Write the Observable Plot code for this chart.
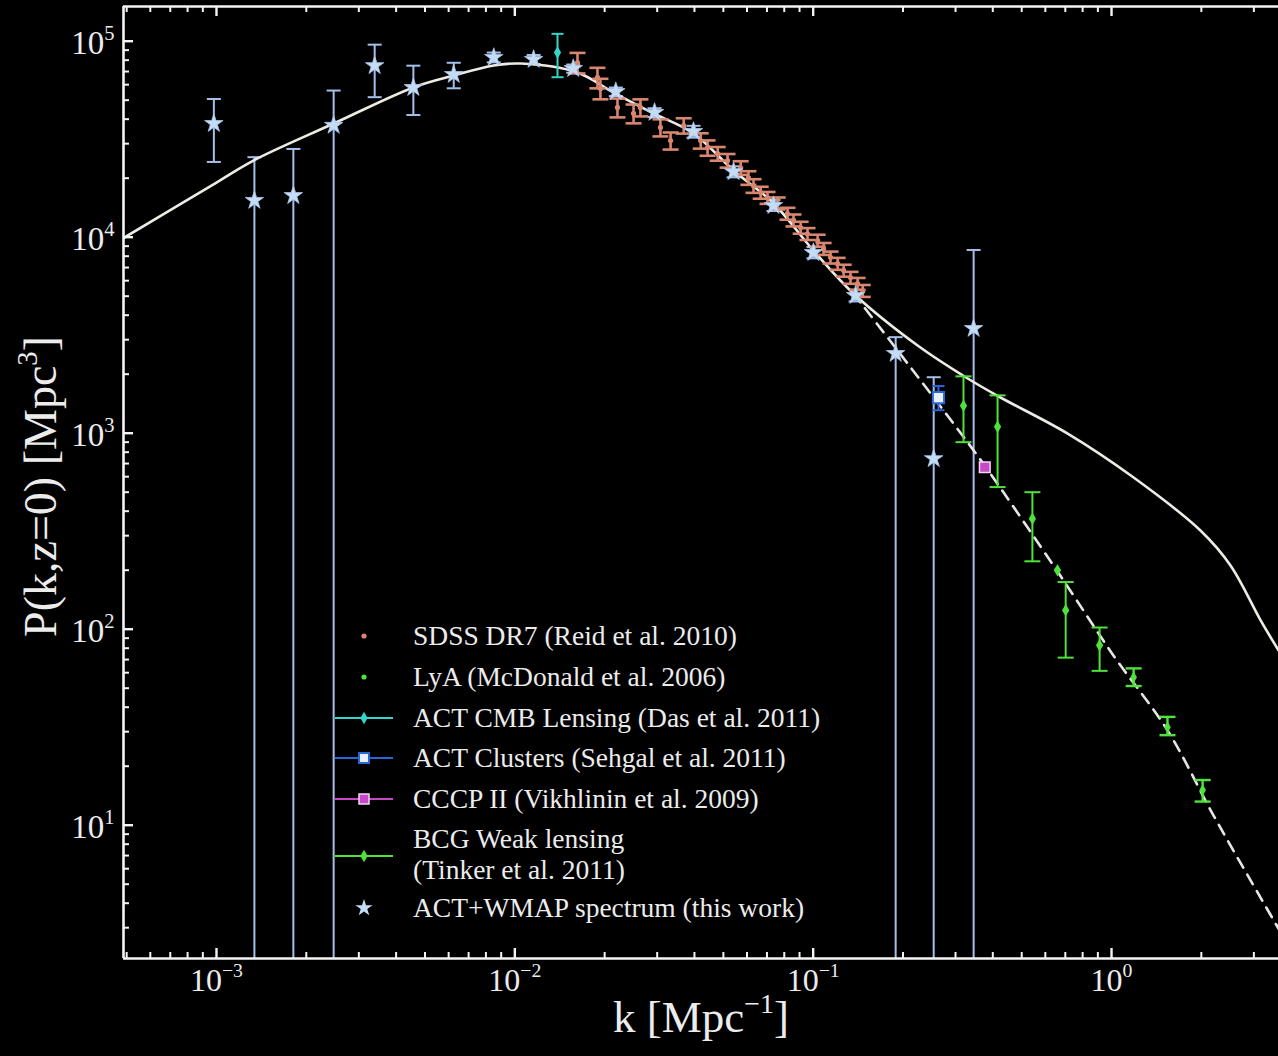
<!DOCTYPE html>
<html><head><meta charset="utf-8">
<script src="https://cdn.jsdelivr.net/npm/d3@7"></script>
<script src="https://cdn.jsdelivr.net/npm/@observablehq/plot@0.6"></script>
<style>
html,body{margin:0;padding:0;background:#000;}
#chart svg{display:block;}
</style></head><body><div id="chart"></div>
<script>
// ---------- data ----------
const theoryK = [4.879e-4, 1.0e-3, 1.33e-3, 2.47e-3, 4.57e-3, 6.24e-3, 8.49e-3, 1.047e-2, 1.62e-2, 2.14e-2, 2.92e-2, 3.97e-2, 5.41e-2, 7.36e-2, 0.1002, 0.1365, 0.2239, 0.3296, 0.4246, 0.7129, 1.186, 1.990, 2.508, 3.161, 3.628];
const theoryP = [9.9e3, 1.9e4, 2.46e4, 3.8e4, 5.81e4, 6.68e4, 7.52e4, 7.69e4, 6.92e4, 5.47e4, 4.28e4, 3.38e4, 2.19e4, 1.49e4, 8550, 5160, 2800, 1901, 1521, 995, 594, 318, 211, 111, 78.0];

const linearK = [0.1365, 0.2123, 0.2735, 0.3755, 0.659, 1.016, 1.542, 2.198, 3.628];
const linearP = [5164, 2163, 1306, 684, 197, 73.3, 30.4, 11.2, 2.97];

const actK  = [0.00098, 0.00134, 0.00181, 0.00247, 0.00339, 0.00457, 0.00624, 0.0085, 0.01156, 0.0157, 0.0218, 0.0294, 0.0397, 0.0541, 0.0736, 0.1002, 0.1387, 0.189, 0.2535, 0.345];
const actP  = [3.8e4, 1.54e4, 1.63e4, 3.72e4, 7.5e4, 5.8e4, 6.76e4, 8.26e4, 8.07e4, 7.25e4, 5.53e4, 4.33e4, 3.46e4, 2.16e4, 1.45e4, 8350, 5040, 2550, 741, 3420];
const actHi = [5.07e4, 2.56e4, 2.82e4, 5.6e4, 9.6e4, 7.5e4, 7.76e4, 8.75e4, 8.5e4, 7.6e4, 5.8e4, 4.55e4, 3.7e4, 2.3e4, 1.55e4, 8900, 5400, 3090, 1930, 8600];
const actLo = [2.42e4, 0.5, 0.5, 0.5, 5.18e4, 4.2e4, 5.75e4, 7.8e4, 7.65e4, 6.9e4, 5.25e4, 4.1e4, 3.22e4, 2.02e4, 1.36e4, 7800, 4700, 0.5, 0.5, 0.5];

const sdssK = [0.01622, 0.01892, 0.01936, 0.02208, 0.02500, 0.02636, 0.03076, 0.03327, 0.03681, 0.04198, 0.04426, 0.04786, 0.05164, 0.05715, 0.06067, 0.06310, 0.06668, 0.07031, 0.07603, 0.08204, 0.08590, 0.09078, 0.09572, 0.1035, 0.1084, 0.1143, 0.1208, 0.1265, 0.1334, 0.1409, 0.1466];
const sdssP = [77800, 65300, 57400, 45900, 42800, 45900, 36300, 31100, 37100, 31100, 28600, 26700, 24600, 22600, 20100, 18300, 16900, 15900, 14900, 13200, 12200, 11200, 10400, 9620, 8730, 7890, 7330, 6760, 6220, 5790, 5330];
const sdssRelErr = [0.12, 0.12, 0.12, 0.11, 0.11, 0.10, 0.10, 0.10, 0.09, 0.09, 0.09, 0.08, 0.08, 0.08, 0.08, 0.08, 0.07, 0.07, 0.07, 0.07, 0.07, 0.07, 0.07, 0.07, 0.07, 0.07, 0.07, 0.07, 0.07, 0.07, 0.07];

const cmbK = [0.0139], cmbP = [8.75e4], cmbLo = [6.55e4], cmbHi = [1.09e5];
const clusterK = [0.263], clusterP = [1520], clusterLo = [1310], clusterHi = [1740];
const cccpK = [0.376], cccpP = [670];
const bcgK  = [0.319, 0.415, 0.543, 0.659, 0.702, 0.912];
const bcgP  = [1380, 1080, 366, 200, 125, 82.8];
const bcgLo = [900, 531, 222, null, 71.6, 61.3];
const bcgHi = [1950, 1560, 500, null, 174, 102];
const lyaK  = [1.186, 1.54, 2.02];
const lyaP  = [56.9, 31.6, 15.1];
const lyaLo = [51.3, 28.8, 13.2];
const lyaHi = [63.1, 35.7, 17.0];

const xDomain = [4.879e-4, 3.628];
const yDomain = [2.089, 1.503e5];
const xMajor = [1e-3, 1e-2, 1e-1, 1];
const xMajorLabels = ["10^{−3}", "10^{−2}", "10^{−1}", "10^{0}"];
const yMajor = [1e1, 1e2, 1e3, 1e4, 1e5];
const yMajorLabels = ["10^{1}", "10^{2}", "10^{3}", "10^{4}", "10^{5}"];

const legendItems = [
  {label: ["SDSS DR7 (Reid et al. 2010)"], kind: "dot", color: "#d8866f"},
  {label: ["LyA (McDonald et al. 2006)"], kind: "dot", color: "#4ee23a"},
  {label: ["ACT CMB Lensing (Das et al. 2011)"], kind: "diamond", color: "#33d6c8"},
  {label: ["ACT Clusters (Sehgal et al. 2011)"], kind: "square", color: "#2a66d8"},
  {label: ["CCCP II (Vikhlinin et al. 2009)"], kind: "msquare", color: "#c848c8"},
  {label: ["BCG Weak lensing", "(Tinker et al. 2011)"], kind: "diamond", color: "#4ee23a"},
  {label: ["ACT+WMAP spectrum (this work)"], kind: "star", color: "#c5dcf5"}
];

// ---------- tables ----------
const zipErr = (K, P, Lo, Hi) => K.map((k, i) => ({k, P: P[i], lo: Lo ? Lo[i] : null, hi: Hi ? Hi[i] : null}));
const theory = theoryK.map((k, i) => ({k, P: theoryP[i]}));
const linear = linearK.map((k, i) => ({k, P: linearP[i]}));
const act = zipErr(actK, actP, actLo, actHi);
const sdss = sdssK.map((k, i) => ({k, P: sdssP[i], lo: sdssP[i] * (1 - sdssRelErr[i]), hi: sdssP[i] * (1 + sdssRelErr[i])}));
const cmb = zipErr(cmbK, cmbP, cmbLo, cmbHi);
const clusters = zipErr(clusterK, clusterP, clusterLo, clusterHi);
const cccp = zipErr(cccpK, cccpP);
const bcg = zipErr(bcgK, bcgP, bcgLo, bcgHi);
const lya = zipErr(lyaK, lyaP, lyaLo, lyaHi);

const FONT = "'Liberation Serif', 'Times New Roman', 'DejaVu Serif', serif";
const FG = "#ececec";
const AXIS = "#f4f4f4";

const W = 1278, H = 1056, ML = 123, MR = 0, MT = 6, MB = 98;
const FW = W - ML - MR, FH = H - MT - MB;

const cap = {draw(ctx, size) { const w = Math.sqrt(size / Math.PI); ctx.moveTo(-w, 0); ctx.lineTo(w, 0); }};

const isPow10 = v => Math.abs(Math.log10(v) - Math.round(Math.log10(v))) < 1e-9;
const xMinor = d3.scaleLog().domain(xDomain).ticks().filter(v => !isPow10(v));
const yMinor = d3.scaleLog().domain(yDomain).ticks().filter(v => !isPow10(v));

function errMarks(data, color, capR, sw) {
  const lows = data.filter(d => d.lo != null && d.lo >= yDomain[0]);
  const highs = data.filter(d => d.hi != null);
  return [
    Plot.ruleX(highs, {x: "k", y1: "lo", y2: "hi", stroke: color, strokeWidth: sw, clip: true}),
    Plot.dot(highs, {x: "k", y: "hi", symbol: cap, r: capR, stroke: color, fill: "none", strokeWidth: sw}),
    Plot.dot(lows, {x: "k", y: "lo", symbol: cap, r: capR, stroke: color, fill: "none", strokeWidth: sw})
  ];
}

const plot = Plot.plot({
  width: W, height: H,
  marginLeft: ML, marginRight: MR, marginTop: MT, marginBottom: MB,
  style: {background: "#000", color: FG, fontFamily: FONT},
  x: {type: "log", domain: xDomain, axis: null},
  y: {type: "log", domain: yDomain, axis: null},
  marks: [
    ...errMarks(act, "#a4c0ea", 7, 2),
    Plot.line(linear, {x: "k", y: "P", stroke: "#e6e6e6", strokeWidth: 2.6, strokeDasharray: "11,8", curve: "catmull-rom", clip: true}),
    Plot.line(theory, {x: "k", y: "P", stroke: "#ecebe4", strokeWidth: 2.6, curve: "catmull-rom", clip: true}),
    ...errMarks(sdss, "#d8866f", 8, 2.6),
    Plot.dot(sdss, {x: "k", y: "P", r: 2.6, fill: "#d8866f"}),
    ...errMarks(cmb, "#33d6c8", 6, 2),
    Plot.dot(cmb, {x: "k", y: "P", symbol: "diamond", r: 3.8, fill: "#33d6c8"}),
    ...errMarks(clusters, "#2a66d8", 6, 2),
    Plot.dot(clusters, {x: "k", y: "P", symbol: "square", r: 6.3, fill: "#e8f0ff", stroke: "#2a66d8", strokeWidth: 2}),
    Plot.dot(cccp, {x: "k", y: "P", symbol: "square", r: 6, fill: "#c848c8", stroke: "#f0d8f0", strokeWidth: 1.5}),
    ...errMarks(bcg, "#4ee23a", 8, 2),
    Plot.dot(bcg, {x: "k", y: "P", symbol: "diamond", r: 3.8, fill: "#4ee23a"}),
    ...errMarks(lya, "#4ee23a", 8, 2.4),
    Plot.dot(lya, {x: "k", y: "P", symbol: "diamond", r: 3.5, fill: "#4ee23a"}),
    Plot.dot(act, {x: "k", y: "P", symbol: "star", r: 5.8, fill: "#c5dcf5", stroke: "#a8c4ea", strokeWidth: 0.8}),
    // frame (left, top, bottom)
    Plot.ruleX([xDomain[0]], {stroke: AXIS, strokeWidth: 2.6}),
    Plot.ruleY([yDomain[0]], {stroke: AXIS, strokeWidth: 2.6}),
    Plot.ruleY([yDomain[1]], {stroke: AXIS, strokeWidth: 2.6}),
    // inward ticks (bottom, top, left)
    Plot.tickX(xMajor, {x: d => d, insetTop: FH - 10, stroke: AXIS, strokeWidth: 2.4}),
    Plot.tickX(xMinor, {x: d => d, insetTop: FH - 6, stroke: AXIS, strokeWidth: 2}),
    Plot.tickX(xMajor, {x: d => d, insetBottom: FH - 10, stroke: AXIS, strokeWidth: 2.4}),
    Plot.tickX(xMinor, {x: d => d, insetBottom: FH - 6, stroke: AXIS, strokeWidth: 2}),
    Plot.tickY(yMajor, {y: d => d, insetRight: FW - 10, stroke: AXIS, strokeWidth: 2.4}),
    Plot.tickY(yMinor, {y: d => d, insetRight: FW - 6, stroke: AXIS, strokeWidth: 2}),
    // tick labels
    Plot.text(xMajor, {x: d => d, frameAnchor: "bottom", dy: 32, text: (d, i) => xMajorLabels[i], fontSize: 32, fill: FG, textAnchor: "middle"}),
    Plot.text(yMajor, {y: d => d, frameAnchor: "left", dx: -9, dy: 2, text: (d, i) => yMajorLabels[i], fontSize: 33, fill: FG, textAnchor: "end"}),
    // axis titles
    Plot.text(["k [Mpc^{−1}]"], {frameAnchor: "bottom", dy: 73, text: d => d, fontSize: 45, fill: FG, textAnchor: "middle"}),
    Plot.text(["P(k,z=0) [Mpc^{3}]"], {frameAnchor: "left", dx: -82, dy: 4, rotate: -90, text: d => d, fontSize: 46, fill: FG, textAnchor: "middle"})
  ]
});

document.getElementById("chart").appendChild(plot);

// superscripts
const NS = "http://www.w3.org/2000/svg";
d3.select(plot).selectAll("text").each(function() {
  const node = this;
  const s = node.textContent;
  const m = s.match(/^(.*?)\^\{([^}]*)\}(.*)$/);
  if (!m) return;
  const fs = parseFloat(getComputedStyle(node).fontSize);
  node.textContent = "";
  const a = document.createElementNS(NS, "tspan"); a.textContent = m[1]; node.appendChild(a);
  const b = document.createElementNS(NS, "tspan"); b.textContent = m[2];
  b.setAttribute("font-size", (fs * 0.62).toFixed(1)); b.setAttribute("dy", (-fs * 0.42).toFixed(1)); node.appendChild(b);
  if (m[3]) { const c = document.createElementNS(NS, "tspan"); c.textContent = m[3]; c.setAttribute("dy", (fs * 0.42).toFixed(1)); node.appendChild(c); }
});

// legend (inside plot area)
const lg = d3.select(plot).append("g").attr("font-family", FONT).attr("font-size", 27.5).attr("fill", FG).attr("text-anchor", "start");
const rowY = [636, 677, 718, 758, 799, 856, 908];
legendItems.forEach((it, i) => {
  const y = rowY[i];
  const g = lg.append("g").attr("transform", `translate(364,${y})`);
  if (it.kind !== "dot" && it.kind !== "star") {
    g.append("line").attr("x1", -29).attr("x2", 29).attr("stroke", it.color).attr("stroke-width", 2);
  }
  if (it.kind === "dot") g.append("circle").attr("r", 2.6).attr("fill", it.color);
  if (it.kind === "diamond") g.append("path").attr("d", d3.symbol(d3.symbolDiamond, 45)()).attr("fill", it.color);
  if (it.kind === "square") g.append("rect").attr("x", -5).attr("y", -5).attr("width", 10).attr("height", 10).attr("fill", "#e8f0ff").attr("stroke", it.color).attr("stroke-width", 2);
  if (it.kind === "msquare") g.append("rect").attr("x", -5).attr("y", -5).attr("width", 10).attr("height", 10).attr("fill", it.color).attr("stroke", "#f0d8f0").attr("stroke-width", 1.5);
  if (it.kind === "star") g.append("path").attr("d", d3.symbol(d3.symbolStar, 90)()).attr("fill", it.color);
  if (it.label.length === 1) {
    lg.append("text").attr("x", 413).attr("y", y + 9).text(it.label[0]);
  } else {
    lg.append("text").attr("x", 413).attr("y", y - 8).text(it.label[0]);
    lg.append("text").attr("x", 413).attr("y", y + 23).text(it.label[1]);
  }
});
</script>
</body></html>
